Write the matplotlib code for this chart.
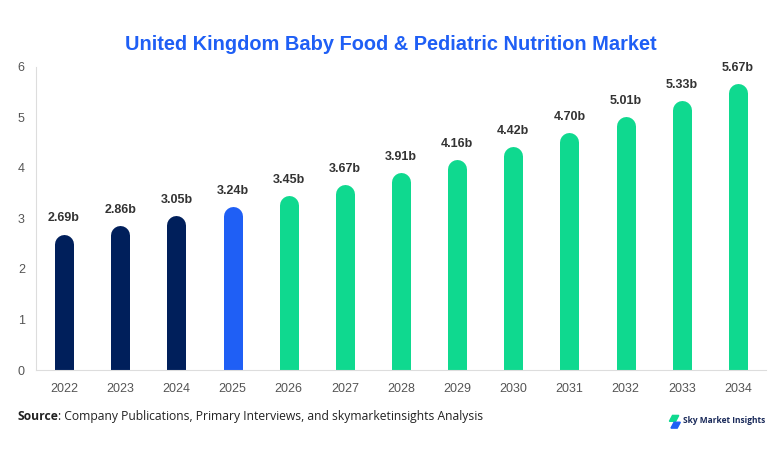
import matplotlib
matplotlib.use("Agg")
import matplotlib.pyplot as plt
from matplotlib.patches import Polygon

years = ["2022", "2023", "2024", "2025", "2026", "2027", "2028",
         "2029", "2030", "2031", "2032", "2033", "2034"]
values = [2.69, 2.86, 3.05, 3.24, 3.45, 3.67, 3.91,
          4.16, 4.42, 4.70, 5.01, 5.33, 5.67]
valueLabels = ["2.69b", "2.86b", "3.05b", "3.24b", "3.45b", "3.67b", "3.91b",
               "4.16b", "4.42b", "4.70b", "5.01b", "5.33b", "5.67b"]
yTicks = [0, 1, 2, 3, 4, 5, 6]

navy = "#001f5b"
blue = "#1f5ff5"
green = "#0fd98f"
barColors = [navy] * 3 + [blue] + [green] * 9

plt.rcParams["font.family"] = ["Liberation Sans", "DejaVu Sans"]
sourceFont = ["Open Sans", "DejaVu Sans"]

fig = plt.figure(figsize=(7.82, 4.54), dpi=100)
ax = fig.add_axes([0.046, 0.185, 0.9335, 0.6675])

# bar width in pixels -> points for rounded caps
barPx = 19
barPt = barPx * 72 / fig.dpi
axHeightPx = 0.6675 * 454
capData = (barPx / 2) / (axHeightPx / 6)

for i, (v, c) in enumerate(zip(values, barColors)):
    ax.plot([i, i], [-1, v - capData], color=c, linewidth=barPt,
            solid_capstyle="round", zorder=2)
    ax.annotate(valueLabels[i], (i, v), xytext=(0, 7), textcoords="offset points",
                ha="center", va="bottom", fontsize=9, fontweight="bold",
                color="#333333")

ax.set_xlim(-0.5, len(years) - 0.5)
ax.set_ylim(0, 6)
ax.set_xticks(range(len(years)))
ax.set_xticklabels(years)
ax.set_yticks(yTicks)
ax.tick_params(axis="both", length=0, labelsize=9, labelcolor="#555555")
ax.tick_params(axis="x", pad=9)
ax.tick_params(axis="y", pad=8)

for side in ["top", "right"]:
    ax.spines[side].set_visible(False)
ax.spines["left"].set_color("#dddddd")
ax.spines["bottom"].set_color("#dddddd")

fig.text(0.5, 0.901, "United Kingdom Baby Food & Pediatric Nutrition Market",
         ha="center", va="center", fontsize=14.4, fontweight="bold", color=blue)

srcBold = fig.text(0.022, 0.082, "Source", ha="left", va="center", fontsize=8.7,
                   fontweight="bold", color="#222222", family=sourceFont)
renderer = fig.canvas.get_renderer()
boldBox = srcBold.get_window_extent(renderer=renderer)
fig.text(boldBox.x1 / fig.bbox.width, 0.082,
         ": Company Publications, Primary Interviews, and skymarketinsights Analysis",
         ha="left", va="center", fontsize=8.7, color="#222222", family=sourceFont)

# small logo mark
fig.patches.append(Polygon([[0.860, 0.085], [0.868, 0.085], [0.864, 0.072], [0.856, 0.072]],
                           closed=True, transform=fig.transFigure, color=green))
fig.patches.append(Polygon([[0.862, 0.070], [0.870, 0.070], [0.866, 0.057], [0.858, 0.057]],
                           closed=True, transform=fig.transFigure, color=blue))
fig.text(0.874, 0.073, "Sky Market Insights", ha="left", va="center", fontsize=6,
         fontweight="bold", color="#1a2a5a", family=sourceFont)

fig.savefig("out.png", dpi=100)
